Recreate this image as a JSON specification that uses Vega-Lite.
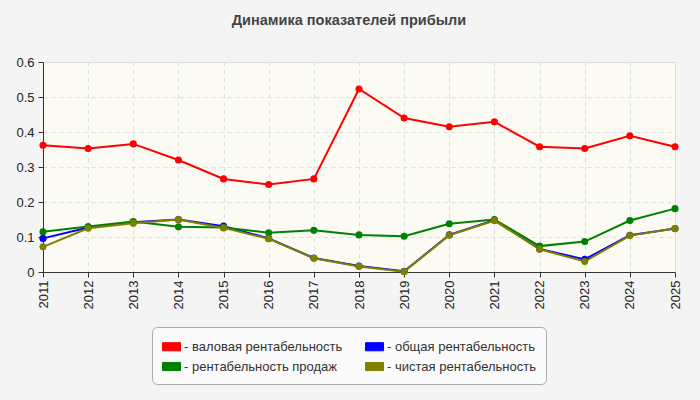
{
  "$schema": "https://vega.github.io/schema/vega-lite/v6.json",
  "width": 632,
  "height": 210,
  "autosize": {"type": "none"},
  "padding": {"left": 43, "top": 62, "right": 25, "bottom": 128},
  "background": "#f4f4f4",
  "title": {
    "text": "Динамика показателей прибыли",
    "font": "Liberation Sans",
    "fontSize": 14.5,
    "fontWeight": "bold",
    "color": "#444444",
    "offset": 28,
    "dx": -10
  },
  "data": {
    "values": [
      {"year": "2011", "series": "валовая рентабельность", "value": 0.362},
      {"year": "2012", "series": "валовая рентабельность", "value": 0.353},
      {"year": "2013", "series": "валовая рентабельность", "value": 0.366},
      {"year": "2014", "series": "валовая рентабельность", "value": 0.320},
      {"year": "2015", "series": "валовая рентабельность", "value": 0.266},
      {"year": "2016", "series": "валовая рентабельность", "value": 0.250},
      {"year": "2017", "series": "валовая рентабельность", "value": 0.266},
      {"year": "2018", "series": "валовая рентабельность", "value": 0.523},
      {"year": "2019", "series": "валовая рентабельность", "value": 0.440},
      {"year": "2020", "series": "валовая рентабельность", "value": 0.415},
      {"year": "2021", "series": "валовая рентабельность", "value": 0.429},
      {"year": "2022", "series": "валовая рентабельность", "value": 0.358},
      {"year": "2023", "series": "валовая рентабельность", "value": 0.353},
      {"year": "2024", "series": "валовая рентабельность", "value": 0.389},
      {"year": "2025", "series": "валовая рентабельность", "value": 0.358},
      {"year": "2011", "series": "общая рентабельность", "value": 0.096},
      {"year": "2012", "series": "общая рентабельность", "value": 0.127},
      {"year": "2013", "series": "общая рентабельность", "value": 0.142},
      {"year": "2014", "series": "общая рентабельность", "value": 0.150},
      {"year": "2015", "series": "общая рентабельность", "value": 0.131},
      {"year": "2016", "series": "общая рентабельность", "value": 0.096},
      {"year": "2017", "series": "общая рентабельность", "value": 0.040},
      {"year": "2018", "series": "общая рентабельность", "value": 0.017},
      {"year": "2019", "series": "общая рентабельность", "value": 0.002},
      {"year": "2020", "series": "общая рентабельность", "value": 0.106},
      {"year": "2021", "series": "общая рентабельность", "value": 0.148},
      {"year": "2022", "series": "общая рентабельность", "value": 0.066},
      {"year": "2023", "series": "общая рентабельность", "value": 0.036},
      {"year": "2024", "series": "общая рентабельность", "value": 0.105},
      {"year": "2025", "series": "общая рентабельность", "value": 0.124},
      {"year": "2011", "series": "рентабельность продаж", "value": 0.115},
      {"year": "2012", "series": "рентабельность продаж", "value": 0.130},
      {"year": "2013", "series": "рентабельность продаж", "value": 0.144},
      {"year": "2014", "series": "рентабельность продаж", "value": 0.129},
      {"year": "2015", "series": "рентабельность продаж", "value": 0.127},
      {"year": "2016", "series": "рентабельность продаж", "value": 0.112},
      {"year": "2017", "series": "рентабельность продаж", "value": 0.119},
      {"year": "2018", "series": "рентабельность продаж", "value": 0.106},
      {"year": "2019", "series": "рентабельность продаж", "value": 0.102},
      {"year": "2020", "series": "рентабельность продаж", "value": 0.138},
      {"year": "2021", "series": "рентабельность продаж", "value": 0.150},
      {"year": "2022", "series": "рентабельность продаж", "value": 0.074},
      {"year": "2023", "series": "рентабельность продаж", "value": 0.087},
      {"year": "2024", "series": "рентабельность продаж", "value": 0.147},
      {"year": "2025", "series": "рентабельность продаж", "value": 0.181},
      {"year": "2011", "series": "чистая рентабельность", "value": 0.072},
      {"year": "2012", "series": "чистая рентабельность", "value": 0.125},
      {"year": "2013", "series": "чистая рентабельность", "value": 0.139},
      {"year": "2014", "series": "чистая рентабельность", "value": 0.150},
      {"year": "2015", "series": "чистая рентабельность", "value": 0.126},
      {"year": "2016", "series": "чистая рентабельность", "value": 0.095},
      {"year": "2017", "series": "чистая рентабельность", "value": 0.039},
      {"year": "2018", "series": "чистая рентабельность", "value": 0.016},
      {"year": "2019", "series": "чистая рентабельность", "value": 0.001},
      {"year": "2020", "series": "чистая рентабельность", "value": 0.105},
      {"year": "2021", "series": "чистая рентабельность", "value": 0.147},
      {"year": "2022", "series": "чистая рентабельность", "value": 0.065},
      {"year": "2023", "series": "чистая рентабельность", "value": 0.030},
      {"year": "2024", "series": "чистая рентабельность", "value": 0.104},
      {"year": "2025", "series": "чистая рентабельность", "value": 0.124}
    ]
  },
  "mark": {
    "type": "line",
    "strokeWidth": 2,
    "point": {"filled": true, "size": 50}
  },
  "encoding": {
    "x": {
      "field": "year",
      "type": "ordinal",
      "scale": {"type": "point", "padding": 0},
      "axis": {
        "title": null,
        "labelAngle": -90,
        "labelAlign": "right",
        "labelBaseline": "middle",
        "labelPadding": 3,
        "grid": true,
        "gridDash": [4, 4],
        "gridColor": "#dddddd",
        "domainColor": "#333333",
        "tickColor": "#333333",
        "tickSize": 5,
        "labelFont": "Liberation Sans",
        "labelFontSize": 13,
        "labelColor": "#222222"
      }
    },
    "y": {
      "field": "value",
      "type": "quantitative",
      "scale": {"domain": [0, 0.6], "nice": false},
      "axis": {
        "title": null,
        "values": [0, 0.1, 0.2, 0.3, 0.4, 0.5, 0.6],
        "format": ".1~f",
        "grid": true,
        "gridDash": [4, 4],
        "gridColor": "#dddddd",
        "domainColor": "#333333",
        "tickColor": "#333333",
        "tickSize": 5,
        "labelPadding": 4,
        "labelFont": "Liberation Sans",
        "labelFontSize": 13,
        "labelColor": "#222222"
      }
    },
    "color": {
      "field": "series",
      "type": "nominal",
      "sort": ["валовая рентабельность", "общая рентабельность", "рентабельность продаж", "чистая рентабельность"],
      "scale": {
        "domain": ["валовая рентабельность", "общая рентабельность", "рентабельность продаж", "чистая рентабельность"],
        "range": ["#ff0000", "#0000ff", "#008000", "#808000"]
      },
      "legend": {
        "title": null,
        "orient": "none",
        "direction": "horizontal",
        "legendX": 109,
        "legendY": 265,
        "columns": 2,
        "columnPadding": 20,
        "rowPadding": 3,
        "padding": 10,
        "fillColor": "#fafafa",
        "strokeColor": "#aaaaaa",
        "cornerRadius": 5,
        "symbolType": "M-1,-0.45H1V0.45H-1Z",
        "symbolSize": 324,
        "symbolStrokeColor": "#999999",
        "symbolStrokeWidth": 1,
        "symbolOffset": 0,
        "labelOffset": 3,
        "labelExpr": "'- ' + datum.label",
        "labelFont": "Liberation Sans",
        "labelFontSize": 13,
        "labelColor": "#333333",
        "labelLimit": 300
      }
    }
  },
  "config": {
    "view": {"fill": "#fbfbf4", "stroke": "#dddddd"}
  }
}
